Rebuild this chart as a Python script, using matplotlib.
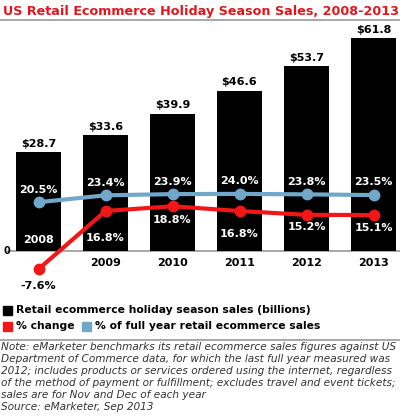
import numpy as np
from matplotlib import pyplot as plt

years = ['2008', '2009', '2010', '2011', '2012', '2013']
sales = [28.7, 33.6, 39.9, 46.6, 53.7, 61.8]
pct_change = [-7.6, 16.8, 18.8, 16.8, 15.2, 15.1]
pct_full_year = [20.5, 23.4, 23.9, 24.0, 23.8, 23.5]

red = '#f21616'
blue = '#6fa8c9'
W, H = 400, 418

fig = plt.figure(figsize=(W / 100, H / 100), dpi=100)
fig.patch.set_facecolor('white')


def fy(py):
    # image pixel row -> figure fraction
    return 1 - py / H


def fx(px):
    return px / W


# title + rule
fig.text(fx(3), fy(12), 'US Retail Ecommerce Holiday Season Sales, 2008-2013',
         color='#e3151c', fontsize=9.15, fontweight='bold', va='center', ha='left')
fig.add_artist(plt.Line2D([0, 1], [fy(20), fy(20)], color='#9a9a9a', lw=1.2))

# main axes, rows 22..300 px
top_px, bot_px, zero_px = 22, 300, 251
ax = fig.add_axes([0, fy(bot_px), 1, (bot_px - top_px) / H])
x = np.arange(len(years))
step = 67.0
ax.set_xlim(-38.5 / step, (W - 38.5) / step)
bar_scale = 3.44
ax.set_ylim(-(bot_px - zero_px) / bar_scale, (zero_px - top_px) / bar_scale)
ax.bar(x, sales, width=0.66, color='black', zorder=2)
ax.axhline(0, xmin=8 / W, xmax=1, color='#9a9a9a', lw=1.2, zorder=1)
ax.text(-38.5 / step + 3 / step, 0, '0', fontsize=7, fontweight='bold', va='center', ha='left')
for i, v in enumerate(sales):
    ax.text(i, v + 1.0, '$%.1f' % v, ha='center', va='bottom', fontsize=8, fontweight='bold')
for i, yr in enumerate(years):
    if i == 0:
        ax.text(i, 3.2, yr, ha='center', va='center', color='white', fontsize=8, fontweight='bold', zorder=3)
    else:
        ax.text(i, -3.4, yr, ha='center', va='center', color='black', fontsize=8, fontweight='bold')
ax.axis('off')

ax2 = ax.twinx()
pct_scale = 2.38
ax2.set_ylim(-(bot_px - zero_px) / pct_scale, (zero_px - top_px) / pct_scale)
ax2.plot(x, pct_full_year, color=blue, lw=3, marker='o', ms=7.5, zorder=4)
ax2.plot(x, pct_change, color=red, lw=3, marker='o', ms=7.5, zorder=5)
for i, v in enumerate(pct_full_year):
    ax2.text(i, v + 5.3, '%.1f%%' % v, ha='center', va='center', color='white', fontsize=8, fontweight='bold')
below = [7.3, 11.5, 5.7, 9.5, 5.3, 5.4]
for i, v in enumerate(pct_change):
    c = 'black' if v < 0 else 'white'
    ax2.text(i, v - below[i], '%.1f%%' % v, ha='center', va='center', color=c, fontsize=8, fontweight='bold')
ax2.axis('off')

# legend
def square(px, py, col):
    fig.add_artist(plt.Rectangle((fx(px), fy(py + 4.5)), 9 / W, 9 / H, color=col))

square(3, 310, 'black')
fig.text(fx(16), fy(310), 'Retail ecommerce holiday season sales (billions)',
         fontsize=7.75, fontweight='bold', va='center')
square(3, 326, red)
fig.text(fx(16), fy(326), '% change', fontsize=7.75, fontweight='bold', va='center')
square(82, 326, blue)
fig.text(fx(95), fy(326), '% of full year retail ecommerce sales', fontsize=7.75, fontweight='bold', va='center')
fig.add_artist(plt.Line2D([0, 1], [fy(340), fy(340)], color='#9a9a9a', lw=1.2))

notes = [
    'Note: eMarketer benchmarks its retail ecommerce sales figures against US',
    'Department of Commerce data, for which the last full year measured was',
    '2012; includes products or services ordered using the internet, regardless',
    'of the method of payment or fulfillment; excludes travel and event tickets;',
    'sales are for Nov and Dec of each year',
    'Source: eMarketer, Sep 2013',
]
for k, line in enumerate(notes):
    fig.text(fx(1), fy(347 + 12 * k), line, fontsize=7.6, style='italic',
             color='#333333', va='center', ha='left')

fig.savefig('out.png', dpi=100, facecolor='white')
